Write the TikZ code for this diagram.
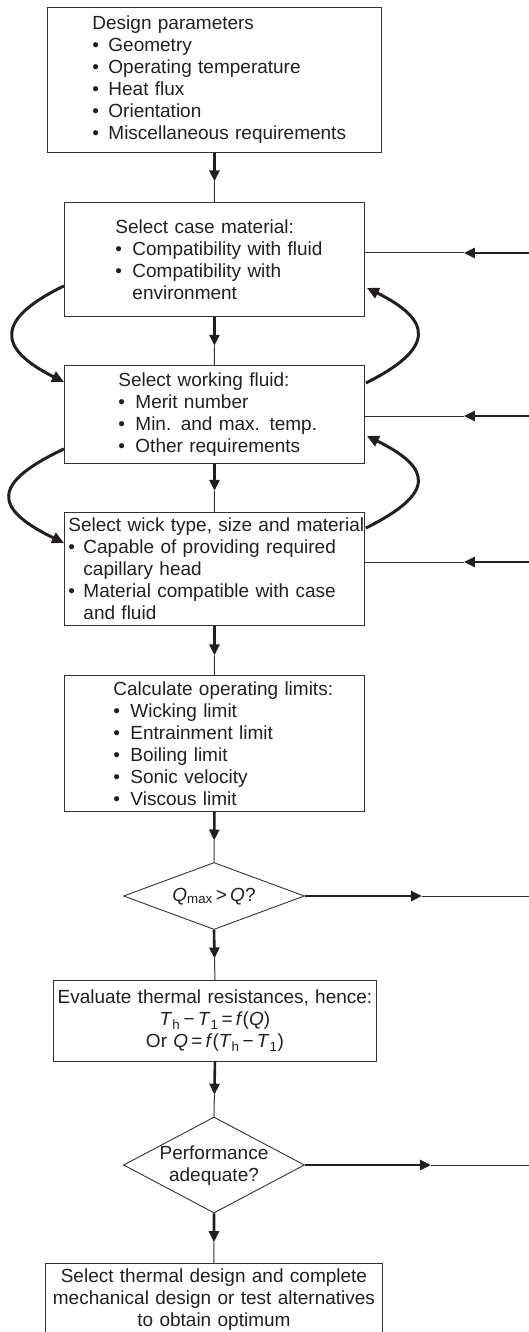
\documentclass[tikz,border=0pt]{standalone}
\usepackage{fontspec}
\setmainfont{Liberation Sans}
\usetikzlibrary{shapes.geometric,arrows.meta,calc}
\definecolor{ink}{HTML}{231F20}
\definecolor{edge}{HTML}{333333}
\newcommand\bl[2]{\makebox[#1][l]{\textbullet}#2}
\newcommand\sm[1]{\makebox[0pt]{\smash{\raisebox{-0.5ex}{#1}}}}
\tikzset{
  box/.style={draw=edge, line width=0.9pt, inner xsep=0pt, inner ysep=0pt, anchor=north west, text=ink},
  listbox/.style={box, align=left},
  cbox/.style={box, align=center},
  dec/.style={draw=edge, line width=0.9pt, diamond, inner sep=0pt, text=ink},
  thickln/.style={line width=2.6pt, draw=ink, -{Triangle[length=11pt,width=10pt]}},
  thinln/.style={line width=1pt, draw=edge},
  curveln/.style={line width=3pt, draw=ink, -{Triangle[length=12pt,width=11pt]}},
}
\begin{document}
\begin{tikzpicture}[x=1pt,y=-1pt,font=\fontsize{19}{22}\selectfont]
\useasboundingbox (0,0) rectangle (529,1332);

% boxes
\node[listbox, text width=334pt, minimum height=145pt] (b1) at (47,7)
 {\leftskip=45pt Design parameters\\
  \bl{16pt}{Geometry}\\
  \bl{16pt}{Operating temperature}\\
  \bl{16pt}{Heat flux}\\
  \bl{16pt}{Orientation}\\
  \bl{16pt}{Miscellaneous requirements}\par};

\node[listbox, text width=300pt, minimum height=114pt] (b2) at (64,202)
 {\leftskip=51pt Select case material:\\
  \bl{17pt}{Compatibility with fluid}\\
  \bl{17pt}{Compatibility with}\\
  \hspace*{17pt}environment\par};

\node[listbox, text width=300pt, minimum height=98pt] (b3) at (64,365)
 {\leftskip=54pt Select working fluid:\\
  \bl{17pt}{Merit number}\\
  \bl{17pt}{Min. and max. temp.}\\
  \bl{17pt}{Other requirements}\par};

\node[listbox, text width=300pt, minimum height=113pt] (b4) at (64,512)
 {\leftskip=4pt Select wick type, size and material\\
  \bl{15pt}{Capable of providing required}\\
  \hspace*{15pt}capillary head\\
  \bl{15pt}{Material compatible with case}\\
  \hspace*{15pt}and fluid\par};

\node[listbox, text width=300pt, minimum height=136pt] (b5) at (64,675)
 {\leftskip=49pt Calculate operating limits:\\
  \bl{17pt}{Wicking limit}\\
  \bl{17pt}{Entrainment limit}\\
  \bl{17pt}{Boiling limit}\\
  \bl{17pt}{Sonic velocity}\\
  \bl{17pt}{Viscous limit}\par};

\node[dec, minimum width=181pt, minimum height=67pt] (d1) at (214,896)
 {\sm{\textit{Q}\textsubscript{max}\,>\,\textit{Q}?}};

\node[cbox, text width=323pt, minimum height=81pt] (b6) at (53,980)
 {Evaluate thermal resistances, hence:\\
  \textit{T}\textsubscript{h}\,−\,\textit{T}\textsubscript{1}\,=\,\textit{f}(\textit{Q})\\
  Or \textit{Q}\,=\,\textit{f}(\textit{T}\textsubscript{h}\,−\,\textit{T}\textsubscript{1})};

\node[dec, minimum width=181pt, minimum height=96pt] (d2) at (214,1165)
 {\sm{\begin{tabular}{@{}c@{}}Performance\\adequate?\end{tabular}}};

\node[cbox, text width=337pt, minimum height=73pt] (b7) at (45,1263)
 {Select thermal design and complete\\
  mechanical design or test alternatives\\
  to obtain optimum};

% vertical connectors
\foreach \a/\b/\f [count=\i] in {b1/b2/0.58, b2/b3/0.6, b3/b4/0.56, b4/b5/0.6, b5/d1/0.57, d1/b6/0.57, b6/d2/0.6, d2/b7/0.58}{
  \coordinate (m\i) at ($(\a.south)!\f!(\b.north)$);
  \draw[thickln] (\a.south) -- (m\i);
  \draw[thinln] (m\i) -- (\b.north);
}

% inputs from the right
\foreach \b/\dy [count=\i] in {b2/51, b3/51, b4/50}{
  \coordinate (e\i) at ($(\b.north east)+(0,\dy)$);
  \coordinate (t\i) at ($(e\i)+(99,0)$);
  \coordinate (s\i) at ($(e\i)+(180,0)$);
  \draw[thickln] (s\i) -- (t\i);
  \draw[thinln] (t\i) -- (e\i);
}

% outputs of the decisions
\coordinate (o1) at ($(d1.east)+(117,0)$);
\coordinate (x1) at ($(d1.east)+(240,0)$);
\draw[thickln] (d1.east) -- (o1);
\draw[thinln] (o1) -- (x1);
\coordinate (o2) at ($(d2.east)+(126,0)$);
\coordinate (x2) at ($(d2.east)+(240,0)$);
\draw[thickln] (d2.east) -- (o2);
\draw[thinln] (o2) -- (x2);

% curved feedback arrows
\draw[curveln] ($(b2.south west)+(0,-31)$) .. controls (-4,319) and (-4,348) .. ($(b3.north west)+(0,17)$);
\draw[curveln] ($(b3.north east)+(1,18)$) .. controls (434,349) and (434,321) .. ($(b2.south east)+(2,-29)$);
\draw[curveln] ($(b3.south west)+(0,-15)$) .. controls (-8,483) and (-8,508) .. ($(b4.north west)+(0,31)$);
\draw[curveln] ($(b4.north east)+(1,16)$) .. controls (434,494) and (434,469) .. ($(b3.south east)+(2,-28)$);
\end{tikzpicture}
\end{document}
